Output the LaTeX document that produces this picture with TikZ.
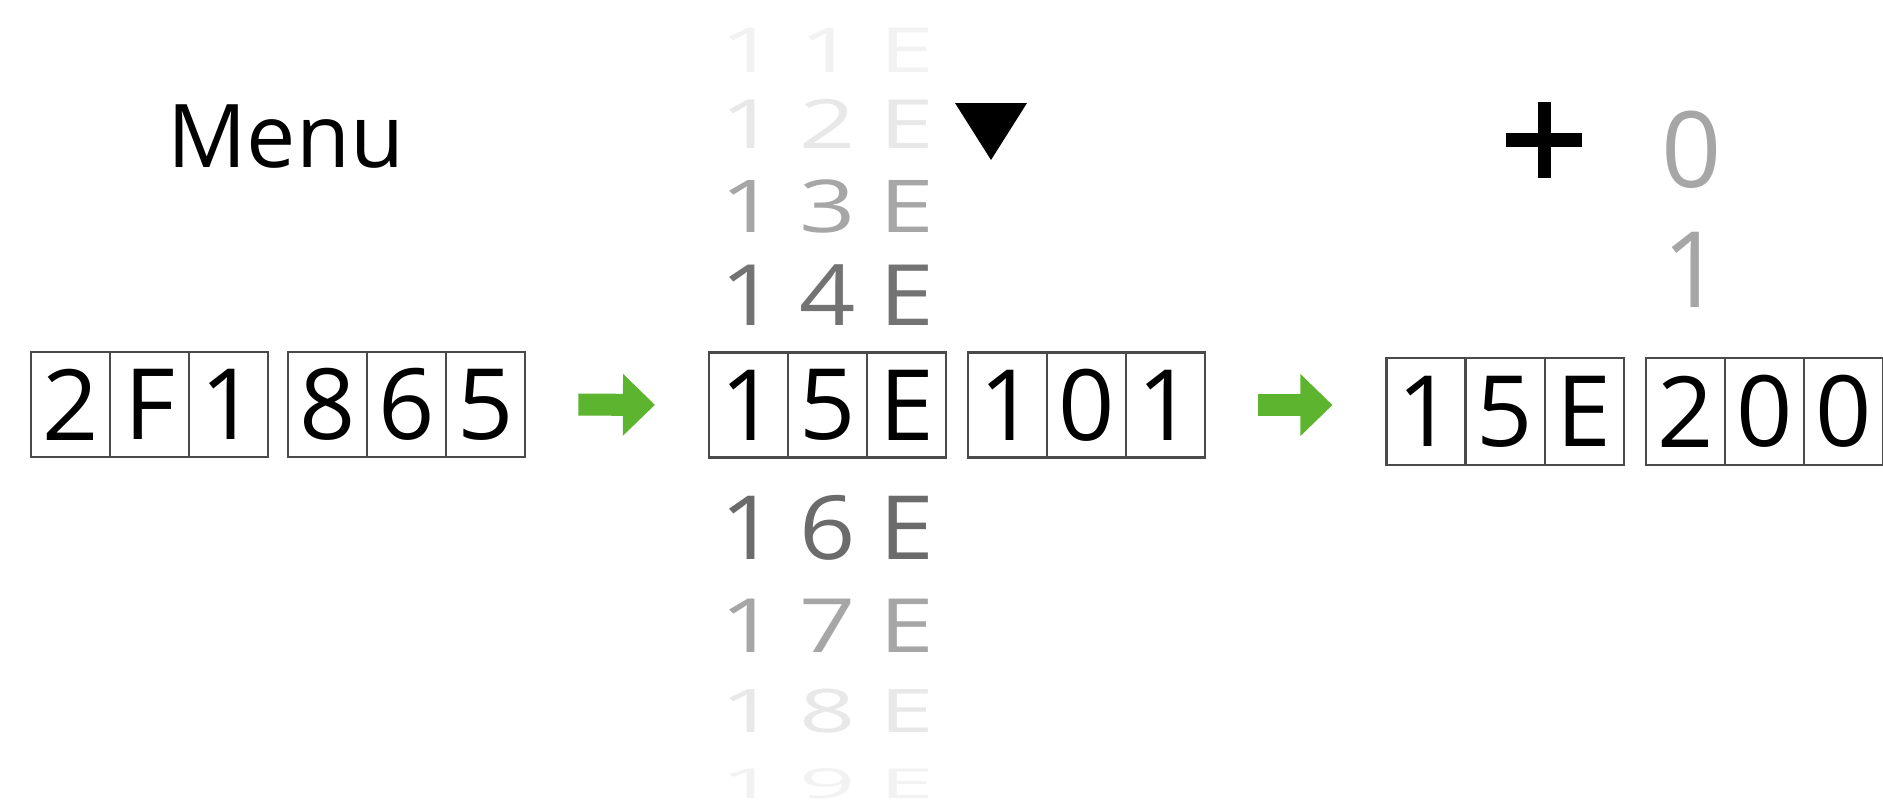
\documentclass[tikz,border=0pt]{standalone}
\usepackage{fontspec}
\usepackage{graphicx}
\usetikzlibrary{arrows.meta,positioning}
\setmainfont{Open Sans}
\definecolor{dispGreen}{HTML}{5DB52F}
\definecolor{dispLine}{HTML}{4A4A4A}
% one line of the rolling digit drum
\newcommand{\rollrow}[2]{\scalebox{1}[#1]{\makebox[0.79cm]{1}\makebox[0.79cm]{#2}\makebox[0.79cm]{E}}}

\begin{document}
\begin{tikzpicture}[x=0.01cm,y=-0.01cm,
    cell/.style={draw=dispLine,line width=0.6pt,minimum width=0.79cm,
                 minimum height=1.05cm,inner sep=0pt,outer sep=0pt,
                 font=\fontsize{28}{28}\selectfont},
    roll/.style={inner sep=0pt,font=\fontsize{28}{28}\selectfont},
    push/.style={draw=dispGreen,line width=0.22cm,
                 -{Triangle[width=0.6cm,length=0.32cm]},
                 shorten <=0.53cm,shorten >=0.54cm}]
  \fill[white] (0,0) rectangle (1883,809);
  \useasboundingbox (0,0) rectangle (1883,809);

  \node[anchor=base west,font=\fontsize{25}{26}\selectfont] (menu) at (155,167) {Menu};

  % start value
  \node[cell] (l1) at (70.5,404.5) {2};
  \node[cell,right=0pt of l1] (l2) {F};
  \node[cell,right=0pt of l2] (l3) {1};
  \node[cell,right=0.2cm of l3] (l4) {8};
  \node[cell,right=0pt of l4] (l5) {6};
  \node[cell,right=0pt of l5] (l6) {5};

  % after the drum
  \node[cell] (m1) at (748.5,405) {1};
  \node[cell,right=0pt of m1] (m2) {5};
  \node[cell,right=0pt of m2] (m3) {E};
  \node[cell,right=0.22cm of m3] (m4) {1};
  \node[cell,right=0pt of m4] (m5) {0};
  \node[cell,right=0pt of m5] (m6) {1};

  \node[roll,text=black!5]  (s11) at (827.5,50)  {\rollrow{0.63}{1}};
  \node[roll,text=black!9]  (s12) at (827.5,124) {\rollrow{0.69}{2}};
  \node[roll,text=black!35] (s13) at (827.5,206) {\rollrow{0.74}{3}};
  \node[roll,text=black!55] (s14) at (827.5,295) {\rollrow{0.86}{4}};
  \node[roll,text=black!58] (s16) at (827.5,528) {\rollrow{0.9}{6}};
  \node[roll,text=black!35] (s17) at (827.5,626) {\rollrow{0.76}{7}};
  \node[roll,text=black!9]  (s18) at (827.5,711) {\rollrow{0.61}{8}};
  \node[roll,text=black!5]  (s19) at (827.5,784) {\rollrow{0.42}{9}};

  \fill (955,103) -- (1027,103) -- (991,160) -- cycle;

  % final value
  \node[cell,minimum height=1.07cm] (r1) at (1426,411.5) {1};
  \node[cell,minimum height=1.07cm,right=0pt of r1] (r2) {5};
  \node[cell,minimum height=1.07cm,right=0pt of r2] (r3) {E};
  \node[cell,minimum height=1.07cm,right=0.22cm of r3] (r4) {2};
  \node[cell,minimum height=1.07cm,right=0pt of r4] (r5) {0};
  \node[cell,minimum height=1.07cm,right=0pt of r5] (r6) {0};

  \draw[line width=0.13cm] (1506,140) -- (1582,140) (1544,102) -- (1544,178);
  \node[roll,text=black!35,font=\fontsize{30}{30}\selectfont] (up0) at (1692,150) {0};
  \node[roll,text=black!35,font=\fontsize{30}{30}\selectfont] (up1) at (1693,270) {1};

  \draw[push] (l6.east) -- (m1.west);
  \draw[push] (m6.east) -- (m6.east -| r1.west);
\end{tikzpicture}
\end{document}
